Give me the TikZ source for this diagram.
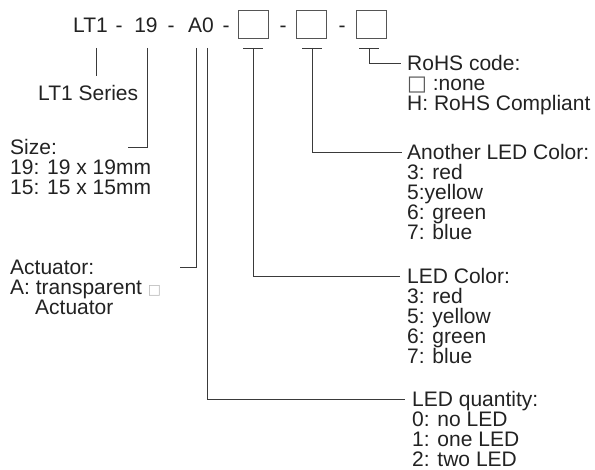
\documentclass[tikz,border=0pt]{standalone}
\usepackage{fontspec}
\setmainfont{Liberation Sans}
\newfontfamily\symfont{DejaVu Sans}
\definecolor{txt}{HTML}{222222}
\definecolor{ln}{HTML}{3A3A3A}
\definecolor{bx}{HTML}{555555}
\begin{document}
\begin{tikzpicture}[x=1pt,y=-1pt,
  lbl/.style={anchor=base west, inner sep=0pt, align=left, font=\fontsize{21}{20}\selectfont, text=txt},
  hdr/.style={anchor=base, inner sep=0pt, font=\fontsize{21}{20}\selectfont, text=txt},
  codebox/.style={draw=bx, line width=0.8pt, minimum width=30pt, minimum height=28pt, inner sep=0pt},
  conn/.style={draw=ln, line width=0.8pt}]
\useasboundingbox (0,0) rectangle (595,470);
% header
\node[hdr] (lt1) at (90.5,33) {LT1};
\node[hdr] (d1) at (119,33) {-};
\node[hdr] (n19) at (146,33) {19};
\node[hdr] (d2) at (171,33) {-};
\node[hdr] (a0) at (201,33) {A0};
\node[hdr] (d3) at (226,33) {-};
\node[codebox] (b1) at (253,24) {};
\node[hdr] (d4) at (283,33) {-};
\node[codebox] (b2) at (311.5,24) {};
\node[hdr] (d5) at (342,33) {-};
\node[codebox] (b3) at (371,24) {};
% labels (anchor = baseline of the last line)
\node[lbl] (ser) at (38,101) {LT1 Series};
\node[lbl] (size) at (10,194.5) {Size:\\19: 19 x 19mm\\15: 15 x 15mm};
\node[lbl] (act) at (10,314.5) {Actuator:\\A: transparent {\symfont\fontsize{14}{14}\selectfont\color{gray!55}□}\\\hspace*{25pt}Actuator};
\node[lbl] (rohs) at (407,110.5) {RoHS code:\\{\symfont\color{bx}□} :none\\H: RoHS Compliant};
\node[lbl] (anoth) at (407,239.5) {Another LED Color:\\3: red\\5:yellow\\6: green\\7: blue};
\node[lbl] (col) at (407,363.5) {LED Color:\\3: red\\5: yellow\\6: green\\7: blue};
\node[lbl] (qty) at (412,466.5) {LED quantity:\\0: no LED\\1: one LED\\2: two LED};
% connector coordinates
\coordinate (sA) at (96,48);   \coordinate (eA) at (96,76);
\coordinate (sB) at (147,48);  \coordinate (eB) at (128,147);
\coordinate (sC) at (196,48);  \coordinate (eC) at (180,267);
\coordinate (sD) at (207,48);  \coordinate (eD) at (405,399);
\coordinate (tE1) at (243,48); \coordinate (tE2) at (263,48);
\coordinate (sE) at (253,48);  \coordinate (eE) at (400,276);
\coordinate (tF1) at (302,48); \coordinate (tF2) at (322,48);
\coordinate (sF) at (312,48);  \coordinate (eF) at (402,152);
\coordinate (tG1) at (359,48); \coordinate (tG2) at (379,48);
\coordinate (sG) at (369,48);  \coordinate (eG) at (401,63);
% connectors
\draw[conn] (sA) -- (eA);
\draw[conn] (sB) |- (eB);
\draw[conn] (sC) |- (eC);
\draw[conn] (sD) |- (eD);
\draw[conn] (tE1) -- (tE2);
\draw[conn] (sE) |- (eE);
\draw[conn] (tF1) -- (tF2);
\draw[conn] (sF) |- (eF);
\draw[conn] (tG1) -- (tG2);
\draw[conn] (sG) |- (eG);
\end{tikzpicture}
\end{document}
